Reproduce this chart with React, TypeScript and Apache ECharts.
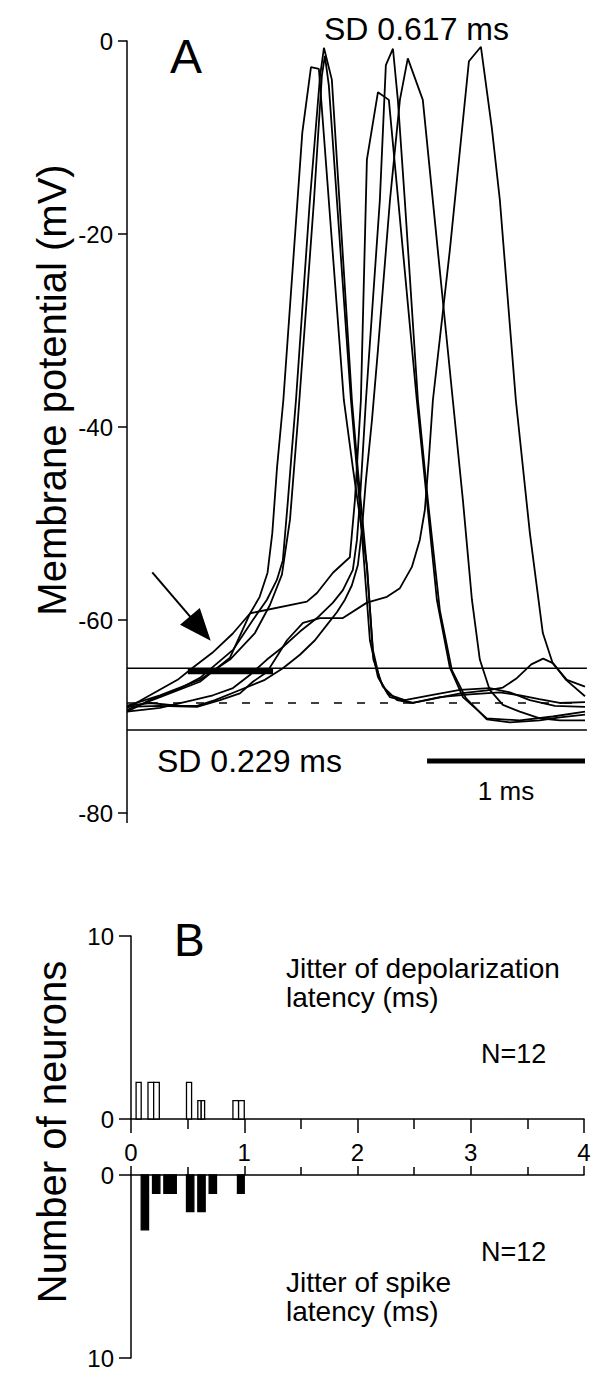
import React, { useEffect, useRef } from "react";
import * as echarts from "echarts";

const FONT = '"Liberation Sans", Arial, Helvetica, sans-serif';

// ---------- Panel A: membrane potential traces (time in ms, potential in mV) ----------
const timeRange = [0, 2.9];
const potentialTicks = { min: -80, max: 0, interval: 20 };

const trace1 = [
  [0, -69.1], [0.08, -68.4], [0.21, -67.2], [0.32, -66.2], [0.42, -64.9], [0.54, -63.4], [0.67, -61.4],
  [0.78, -59.3], [0.84, -57.6], [0.89, -55.1], [0.92, -51.0], [0.95, -44.2], [0.99, -37.2], [1.11, -9.5],
  [1.165, -2.7], [1.215, -2.9], [1.373, -37.2], [1.43, -44.2], [1.52, -54.5], [1.56, -64.1], [1.62, -66.9],
  [1.71, -68.3], [1.81, -68.6], [1.96, -68.1], [2.11, -67.6], [2.28, -67.3], [2.38, -67.0], [2.47, -66.0],
  [2.56, -64.6], [2.635, -64.0], [2.7, -64.5], [2.78, -66.2], [2.9, -67.9],
];
const trace2 = [
  [0, -69.5], [0.146, -68.3], [0.316, -67.25], [0.462, -66.0], [0.671, -63.1], [0.797, -60.0], [0.886, -57.9],
  [0.949, -55.85], [0.987, -53.8], [1.019, -47.6], [1.044, -42.4], [1.07, -37.2], [1.158, -16.5], [1.222, -3.7],
  [1.247, -0.7], [1.297, -4.0], [1.424, -37.2], [1.462, -44.5], [1.519, -54.5], [1.557, -63.1], [1.601, -66.2],
  [1.665, -68.0], [1.81, -68.6], [1.98, -68.0], [2.17, -67.7], [2.36, -67.5], [2.49, -67.8], [2.61, -68.2],
  [2.74, -68.6], [2.9, -68.5],
];
const trace3 = [
  [0, -68.9], [0.209, -67.8], [0.462, -66.2], [0.652, -64.1], [0.81, -61.35], [0.905, -58.45], [0.981, -55.3],
  [1.032, -49.6], [1.082, -39.3], [1.184, -16.5], [1.234, -3.6], [1.253, -1.55], [1.278, -4.6], [1.418, -37.2],
  [1.456, -44.5], [1.5, -53.8], [1.538, -62.1], [1.589, -65.9], [1.652, -67.7], [1.759, -68.3], [1.918, -67.8],
  [2.108, -67.25], [2.297, -67.05], [2.424, -67.5], [2.551, -68.3], [2.709, -68.9], [2.9, -69.0],
];
const trace4 = [
  [0, -69.3], [0.209, -68.0], [0.462, -66.4], [0.652, -63.9], [0.78, -59.3], [1.139, -58.1], [1.203, -57.2],
  [1.304, -55.1], [1.411, -53.5], [1.443, -47.6], [1.481, -37.2], [1.519, -12.3], [1.589, -5.3], [1.658, -6.1],
  [1.835, -37.2], [1.899, -47.6], [1.962, -57.9], [2.044, -64.9], [2.127, -68.0], [2.278, -70.2], [2.487, -70.4],
  [2.696, -70.0], [2.9, -69.5],
];
const trace5 = [
  [0, -69.5], [0.209, -69.1], [0.418, -68.3], [0.544, -67.8], [0.671, -67.05], [0.778, -65.7], [0.886, -64.1],
  [0.987, -62.8], [1.095, -61.2], [1.203, -59.8], [1.304, -58.2], [1.367, -56.9], [1.43, -54.8], [1.456, -51.7],
  [1.475, -47.6], [1.513, -37.2], [1.601, -16.5], [1.639, -2.5], [1.684, -0.8], [1.715, -6.1], [1.759, -16.5],
  [1.842, -37.2], [1.905, -47.6], [1.981, -59.0], [2.057, -65.2], [2.146, -68.1], [2.278, -70.3], [2.424, -70.6],
  [2.614, -70.4], [2.741, -70.1], [2.9, -69.8],
];
const trace6 = [
  [0, -68.9], [0.146, -68.6], [0.335, -68.9], [0.443, -68.9], [0.557, -68.3], [0.715, -67.25], [0.873, -66.2],
  [0.987, -65.0], [1.095, -63.6], [1.19, -62.1], [1.266, -60.5], [1.329, -59.2], [1.38, -57.9], [1.424, -56.4],
  [1.462, -54.3], [1.487, -50.7], [1.513, -45.5], [1.551, -39.3], [1.589, -32.0], [1.665, -16.5], [1.728, -6.1],
  [1.778, -1.8], [1.873, -6.1], [1.968, -21.7], [2.063, -37.2], [2.127, -47.6], [2.184, -57.9], [2.234, -64.1],
  [2.297, -67.25], [2.38, -68.8], [2.487, -69.5], [2.614, -70.2], [2.741, -70.4], [2.9, -70.4],
];
const trace7 = [
  [0, -69.0], [0.209, -68.9], [0.443, -69.0], [0.589, -68.3], [0.715, -67.6], [0.797, -66.4], [0.886, -65.4],
  [0.956, -63.6], [1.013, -62.1], [1.114, -60.3], [1.222, -59.8], [1.367, -59.8], [1.519, -58.2], [1.646, -57.6],
  [1.728, -56.7], [1.804, -54.5], [1.854, -51.7], [1.886, -48.6], [1.911, -43.4], [1.937, -37.2], [2.044, -21.7],
  [2.165, -2.1], [2.241, -0.6], [2.31, -9.0], [2.361, -16.5], [2.462, -37.2], [2.551, -51.0], [2.633, -61.35],
  [2.696, -64.5], [2.785, -66.2], [2.9, -66.9],
];
const traces = [trace1, trace2, trace3, trace4, trace5, trace6, trace7];

const upperLevel = -65.0;
const lowerLevel = -71.4;
const dashedLevel = -68.6;
const thickBar = [[0.385, -65.3], [0.925, -65.3]];
const scaleBar = [[1.9, -74.6], [2.9, -74.6]];
const arrowTail = [0.16, -55.06];
const arrowTip = [0.53, -62.14];

// ---------- Panel B: histograms (bin start/end in ms, number of neurons) ----------
const depolBinStart = [0.045, 0.15, 0.2, 0.49, 0.59, 0.62, 0.9, 0.95];
const depolBinEnd = [0.09, 0.2, 0.25, 0.535, 0.62, 0.65, 0.95, 1.0];
const depolCount = [2, 2, 2, 2, 1, 1, 1, 1];

const spikeBinStart = [0.09, 0.19, 0.29, 0.345, 0.49, 0.59, 0.69, 0.94];
const spikeBinEnd = [0.155, 0.255, 0.345, 0.4, 0.555, 0.655, 0.755, 1.0];
const spikeCount = [3, 1, 1, 1, 2, 2, 1, 1];

const jitterTicks = { min: 0, max: 4, interval: 1 };
const countTicks = { min: 0, max: 10, interval: 10 };

function histRender(fill: string) {
  return (params: any, api: any) => {
    const x0 = api.value(0);
    const x1 = api.value(1);
    const c = api.value(2);
    const p0 = api.coord([x0, c]);
    const p1 = api.coord([x1, 0]);
    return {
      type: "rect",
      shape: {
        x: p0[0],
        y: Math.min(p0[1], p1[1]),
        width: p1[0] - p0[0],
        height: Math.abs(p1[1] - p0[1]),
      },
      style: { fill, stroke: "#000", lineWidth: 1.3 },
    };
  };
}

function txt(text: string, x: number, y: number, size: number, align = "left", rotation = 0, lineHeight?: number) {
  const style: any = {
    text,
    x: 0,
    y: 0,
    fontSize: size,
    fontFamily: FONT,
    fill: "#000",
    align,
    verticalAlign: "middle",
    textAlign: align,
    textVerticalAlign: "middle",
  };
  if (lineHeight) style.lineHeight = lineHeight;
  return { type: "text", x, y, rotation, silent: true, style };
}

export default function App() {
  const ref = useRef<HTMLDivElement>(null);

  useEffect(() => {
    if (!ref.current) return;
    const chart = echarts.init(ref.current, undefined, { renderer: "svg" });

    const axisLineStyle = { color: "#000", width: 1.5 };
    const labelStyle = { color: "#000", fontSize: 24, fontFamily: FONT };

    const levelSeries = (v: number, dashed: boolean) => ({
      type: "line",
      xAxisIndex: 0,
      yAxisIndex: 0,
      data: [[timeRange[0], v], [timeRange[1] + 0.012, v]],
      showSymbol: false,
      silent: true,
      z: 1,
      lineStyle: { color: "#000", width: 1.5, type: dashed ? [8, 15] : "solid" },
    });

    const option: any = {
      animation: false,
      backgroundColor: "#fff",
      grid: [
        { left: 127, top: 41, width: 458, height: 772, outerBoundsMode: "none" },
        { left: 131, top: 936, width: 453, height: 183, outerBoundsMode: "none" },
        { left: 131, top: 1175, width: 453, height: 183, outerBoundsMode: "none" },
      ],
      xAxis: [
        { type: "value", gridIndex: 0, min: timeRange[0], max: timeRange[1], show: false },
        {
          type: "value",
          gridIndex: 1,
          min: jitterTicks.min,
          max: jitterTicks.max,
          interval: jitterTicks.interval,
          axisLine: { show: true, onZero: false, lineStyle: axisLineStyle },
          axisTick: { show: true, length: 14, lineStyle: axisLineStyle },
          minorTick: { show: true, splitNumber: 2, length: 10, lineStyle: axisLineStyle },
          axisLabel: { ...labelStyle, margin: 21 },
          splitLine: { show: false },
        },
        {
          type: "value",
          gridIndex: 2,
          position: "top",
          min: jitterTicks.min,
          max: jitterTicks.max,
          interval: jitterTicks.interval,
          axisLine: { show: true, onZero: false, lineStyle: axisLineStyle },
          axisTick: { show: true, length: 9, lineStyle: axisLineStyle },
          minorTick: { show: true, splitNumber: 2, length: 8, lineStyle: axisLineStyle },
          axisLabel: { show: false },
          splitLine: { show: false },
        },
      ],
      yAxis: [
        {
          type: "value",
          gridIndex: 0,
          min: potentialTicks.min,
          max: potentialTicks.max,
          interval: potentialTicks.interval,
          axisLine: { show: true, onZero: false, lineStyle: axisLineStyle },
          axisTick: { show: true, length: 9, lineStyle: axisLineStyle },
          axisLabel: { ...labelStyle, margin: 14 },
          splitLine: { show: false },
        },
        {
          type: "value",
          gridIndex: 1,
          min: countTicks.min,
          max: countTicks.max,
          interval: countTicks.interval,
          axisLine: { show: true, onZero: false, lineStyle: axisLineStyle },
          axisTick: { show: true, length: 12, lineStyle: axisLineStyle },
          axisLabel: { ...labelStyle, margin: 17 },
          splitLine: { show: false },
        },
        {
          type: "value",
          gridIndex: 2,
          inverse: true,
          min: countTicks.min,
          max: countTicks.max,
          interval: countTicks.interval,
          axisLine: { show: true, onZero: false, lineStyle: axisLineStyle },
          axisTick: { show: true, length: 12, lineStyle: axisLineStyle },
          axisLabel: { ...labelStyle, margin: 17 },
          splitLine: { show: false },
        },
      ],
      series: [
        levelSeries(upperLevel, false),
        levelSeries(lowerLevel, false),
        levelSeries(dashedLevel, true),
        ...traces.map((t) => ({
          type: "line",
          xAxisIndex: 0,
          yAxisIndex: 0,
          data: t,
          showSymbol: false,
          silent: true,
          z: 2,
          lineStyle: { color: "#000", width: 1.8 },
        })),
        {
          type: "line",
          xAxisIndex: 0,
          yAxisIndex: 0,
          data: thickBar,
          showSymbol: false,
          silent: true,
          z: 3,
          lineStyle: { color: "#000", width: 6, cap: "butt" },
        },
        {
          type: "line",
          xAxisIndex: 0,
          yAxisIndex: 0,
          data: scaleBar,
          showSymbol: false,
          silent: true,
          z: 3,
          lineStyle: { color: "#000", width: 5, cap: "butt" },
        },
        {
          type: "custom",
          xAxisIndex: 1,
          yAxisIndex: 1,
          data: depolBinStart.map((s, i) => [s, depolBinEnd[i], depolCount[i]]),
          encode: { x: [0, 1], y: 2 },
          renderItem: histRender("#fff"),
          silent: true,
        },
        {
          type: "custom",
          xAxisIndex: 2,
          yAxisIndex: 2,
          data: spikeBinStart.map((s, i) => [s, spikeBinEnd[i], spikeCount[i]]),
          encode: { x: [0, 1], y: 2 },
          renderItem: histRender("#000"),
          silent: true,
        },
      ],
    };
    chart.setOption(option);

    // Arrow annotation in panel A (data coordinates -> pixels)
    const tail = chart.convertToPixel({ gridIndex: 0 }, arrowTail) as number[];
    const tip = chart.convertToPixel({ gridIndex: 0 }, arrowTip) as number[];
    const dx = tip[0] - tail[0];
    const dy = tip[1] - tail[1];
    const len = Math.sqrt(dx * dx + dy * dy);
    const ux = dx / len;
    const uy = dy / len;
    const headLen = 32;
    const headW = 26;
    const base = [tip[0] - ux * headLen, tip[1] - uy * headLen];
    const b1 = [base[0] - uy * headW / 2, base[1] + ux * headW / 2];
    const b2 = [base[0] + uy * headW / 2, base[1] - ux * headW / 2];

    // small extension of the panel A axis line below its last tick
    const axisBottom = chart.convertToPixel({ gridIndex: 0 }, [timeRange[0], potentialTicks.min]) as number[];

    const graphics: any[] = [
      {
        type: "line",
        silent: true,
        shape: { x1: tail[0], y1: tail[1], x2: base[0] + ux * 4, y2: base[1] + uy * 4 },
        style: { stroke: "#000", lineWidth: 2 },
      },
      {
        type: "polygon",
        silent: true,
        shape: { points: [tip, b1, b2] },
        style: { fill: "#000" },
      },
      {
        type: "line",
        silent: true,
        shape: { x1: axisBottom[0], y1: axisBottom[1], x2: axisBottom[0], y2: axisBottom[1] + 10 },
        style: { stroke: "#000", lineWidth: 1.5 },
      },
      txt("A", 170, 56, 48),
      txt("SD 0.617 ms", 324, 29, 32),
      txt("SD 0.229 ms", 157, 761, 32),
      txt("1 ms", 506, 791, 26, "center"),
      txt("Membrane potential (mV)", 52, 390, 40, "center", Math.PI / 2),
      txt("B", 174, 940, 46),
      txt("Jitter of depolarization\nlatency (ms)", 286, 983, 28, "left", 0, 29),
      txt("N=12", 481, 1054, 27),
      txt("N=12", 481, 1252, 27),
      txt("Jitter of spike\nlatency (ms)", 286, 1297, 28, "left", 0, 29),
      txt("Number of neurons", 52, 1132, 40, "center", Math.PI / 2),
    ];
    chart.setOption({ graphic: graphics });

    return () => {
      chart.dispose();
    };
  }, []);

  return (
    <div
      ref={ref}
      style={{ position: "absolute", left: 0, top: 0, width: 600, height: 1381, background: "#fff" }}
    />
  );
}
